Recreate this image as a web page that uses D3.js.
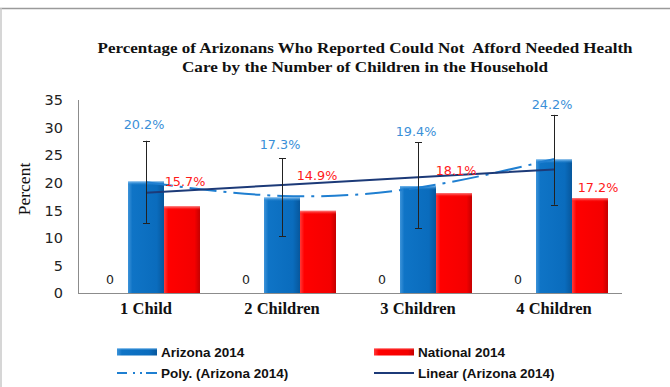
<!DOCTYPE html>
<html>
<head>
<meta charset="utf-8">
<script src="https://cdn.jsdelivr.net/npm/d3@7"></script>
<style>
  html, body { margin: 0; padding: 0; background: #fff; }
  svg { display: block; }
</style>
</head>
<body>
<svg id="chart" width="670" height="387"></svg>
<script>
// ---- data ----
const categories = ["1 Child", "2 Children", "3 Children", "4 Children"];
const seriesNames = ["Zero", "Arizona 2014", "National 2014"];
const zeroValues = [0, 0, 0, 0];
const arizonaValues = [20.2, 17.3, 19.4, 24.2];
const nationalValues = [15.7, 14.9, 18.1, 17.2];
const arizonaErrLow = [12.7, 10.3, 11.7, 16.0];
const arizonaErrHigh = [27.6, 24.4, 27.3, 32.3];
const linearTrend = [18.2, 19.6, 21.0, 22.4];
const polyTrend = [20.1, 17.6, 19.1, 24.3];
const yTicks = [0, 5, 10, 15, 20, 25, 30, 35];
const titleLines = ["Percentage of Arizonans Who Reported Could Not  Afford Needed Health",
                    "Care by the Number of Children in the Household"];
const legendLabels = ["Arizona 2014", "National 2014", "Poly. (Arizona 2014)", "Linear (Arizona 2014)"];

// ---- layout ----
const svg = d3.select("#chart");
const W = 670, H = 387;
const plot = { left: 78, right: 622, top: 100, bottom: 293 };

const x = d3.scaleBand().domain(categories).range([plot.left, plot.right])
  .paddingInner(0.206).paddingOuter(0.103);
const xs = d3.scaleBand().domain(seriesNames).range([0, x.bandwidth()]);
const y = d3.scaleLinear().domain([0, 35]).range([plot.bottom, plot.top]);

// frame
svg.append("line").attr("x1", 0).attr("x2", W).attr("y1", 8.5).attr("y2", 8.5)
  .attr("stroke", "#9a9a9a").attr("stroke-width", 1.5);
svg.append("line").attr("x1", 1).attr("x2", 1).attr("y1", 8).attr("y2", H)
  .attr("stroke", "#c8c8c8").attr("stroke-width", 1.5);

// gradients
const defs = svg.append("defs");
function grad(id, stops) {
  const g = defs.append("linearGradient").attr("id", id)
    .attr("x1", "0%").attr("x2", "100%").attr("y1", "0%").attr("y2", "0%");
  stops.forEach(s => g.append("stop").attr("offset", s[0]).attr("stop-color", s[1]));
}
grad("gBlue", [["0%", "#3d93d9"], ["12%", "#0f74c6"], ["80%", "#0a6cbd"], ["100%", "#07579c"]]);
grad("gRed", [["0%", "#ff3a3a"], ["12%", "#ff0000"], ["85%", "#f40000"], ["100%", "#c40000"]]);
const topBlue = defs.append("linearGradient").attr("id", "tBlue")
  .attr("x1", "0%").attr("x2", "0%").attr("y1", "0%").attr("y2", "100%");
topBlue.append("stop").attr("offset", "0%").attr("stop-color", "#7bbcf0");
topBlue.append("stop").attr("offset", "100%").attr("stop-color", "#0f74c6").attr("stop-opacity", 0);
const topRed = defs.append("linearGradient").attr("id", "tRed")
  .attr("x1", "0%").attr("x2", "0%").attr("y1", "0%").attr("y2", "100%");
topRed.append("stop").attr("offset", "0%").attr("stop-color", "#ff8080");
topRed.append("stop").attr("offset", "100%").attr("stop-color", "#ff0000").attr("stop-opacity", 0);

// title
const titleWidths = [535, 366];
svg.append("g").selectAll("text").data(titleLines).join("text")
  .attr("x", (d, i) => 365 - titleWidths[i] / 2).attr("y", (d, i) => 53 + i * 19)
  .attr("textLength", (d, i) => titleWidths[i]).attr("lengthAdjust", "spacingAndGlyphs")
  .attr("font-family", "'Liberation Serif', serif").attr("font-weight", "bold")
  .attr("font-size", 15.5).attr("fill", "#111")
  .style("white-space", "pre")
  .text(d => d);

// y axis
svg.append("line").attr("x1", plot.left + 0.5).attr("x2", plot.left + 0.5)
  .attr("y1", y(35)).attr("y2", y(0)).attr("stroke", "#8c8c8c");
svg.append("g").selectAll("text").data(yTicks).join("text")
  .attr("x", 63).attr("y", d => y(d)).attr("dy", "0.36em")
  .attr("text-anchor", "end")
  .attr("font-family", "'DejaVu Sans', sans-serif").attr("font-size", 14.5)
  .attr("fill", "#222").text(d => d);

svg.append("text")
  .attr("transform", `translate(30,${189}) rotate(-90)`)
  .attr("text-anchor", "middle")
  .attr("font-family", "'Liberation Serif', serif").attr("font-size", 17.5)
  .attr("fill", "#111").text("Percent");

// x axis
svg.append("line").attr("x1", plot.left).attr("x2", plot.right)
  .attr("y1", y(0) + 0.5).attr("y2", y(0) + 0.5).attr("stroke", "#8c8c8c");
svg.append("g").selectAll("text").data(categories).join("text")
  .attr("x", d => x(d) + x.bandwidth() / 2).attr("y", 314)
  .attr("text-anchor", "middle")
  .attr("font-family", "'Liberation Serif', serif").attr("font-weight", "bold")
  .attr("font-size", 16.5).attr("fill", "#111").text(d => d);

// bars
function drawBars(values, series, fill, topFill) {
  const g = svg.append("g");
  values.forEach((v, i) => {
    const bx = x(categories[i]) + xs(series);
    const bw = xs.bandwidth();
    g.append("rect").attr("x", bx).attr("y", y(v)).attr("width", bw)
      .attr("height", y(0) - y(v)).attr("fill", fill);
    g.append("rect").attr("x", bx).attr("y", y(v)).attr("width", bw)
      .attr("height", 4).attr("fill", topFill);
  });
}
drawBars(arizonaValues, "Arizona 2014", "url(#gBlue)", "url(#tBlue)");
drawBars(nationalValues, "National 2014", "url(#gRed)", "url(#tRed)");

// zero labels
svg.append("g").selectAll("text").data(zeroValues).join("text")
  .attr("x", (d, i) => x(categories[i]) + xs("Zero") + xs.bandwidth() / 2)
  .attr("y", (d) => y(d) - 9)
  .attr("text-anchor", "middle")
  .attr("font-family", "'DejaVu Sans', sans-serif").attr("font-size", 12.5)
  .attr("fill", "#222").text(d => d);

// trend lines
const cx = (i) => x(categories[i]) + xs("Arizona 2014") + xs.bandwidth() / 2;
svg.append("path")
  .datum(polyTrend)
  .attr("d", d3.line().x((d, i) => cx(i)).y(d => y(d)).curve(d3.curveNatural))
  .attr("fill", "none").attr("stroke", "#1f7fd1").attr("stroke-width", 2)
  .attr("stroke-dasharray", "27,7,3,7");
svg.append("path")
  .datum(linearTrend)
  .attr("d", d3.line().x((d, i) => cx(i)).y(d => y(d)))
  .attr("fill", "none").attr("stroke", "#1c3a78").attr("stroke-width", 2);

// error bars
const eg = svg.append("g").attr("stroke", "#222").attr("stroke-width", 1);
arizonaValues.forEach((v, i) => {
  const ex = Math.round(cx(i)) + 0.5;
  eg.append("line").attr("x1", ex).attr("x2", ex)
    .attr("y1", y(arizonaErrHigh[i])).attr("y2", y(arizonaErrLow[i]));
  [arizonaErrHigh[i], arizonaErrLow[i]].forEach(e => {
    eg.append("line").attr("x1", ex - 3.5).attr("x2", ex + 3.5)
      .attr("y1", Math.round(y(e)) + 0.5).attr("y2", Math.round(y(e)) + 0.5);
  });
});

// value labels
const azLift = [16, 14, 11, 10];
svg.append("g").selectAll("text").data(arizonaValues).join("text")
  .attr("x", (d, i) => cx(i) - 2)
  .attr("y", (d, i) => y(arizonaErrHigh[i]) - azLift[i] + 4.5)
  .attr("text-anchor", "middle")
  .attr("font-family", "'DejaVu Sans', sans-serif").attr("font-size", 12.8)
  .attr("fill", "#3a8fd8").text(d => d.toFixed(1) + "%");

const natLift = [25, 35, 23, 11];
const natShift = [3, -1, 2, 8];
svg.append("g").selectAll("text").data(nationalValues).join("text")
  .attr("x", (d, i) => x(categories[i]) + xs("National 2014") + xs.bandwidth() / 2 + natShift[i])
  .attr("y", (d, i) => y(d) - natLift[i] + 4.5)
  .attr("text-anchor", "middle")
  .attr("font-family", "'DejaVu Sans', sans-serif").attr("font-size", 12.8)
  .attr("fill", "#ff1a1a").text(d => d.toFixed(1) + "%");

// legend
const lg = svg.append("g");
const legendPos = [[117, 352], [374, 352], [117, 373], [374, 373]];
legendLabels.forEach((lab, i) => {
  const [lx, ly] = legendPos[i];
  if (i === 0 || i === 1) {
    lg.append("rect").attr("x", lx).attr("y", ly - 3.5).attr("width", 40).attr("height", 7)
      .attr("fill", i === 0 ? "url(#gBlue)" : "url(#gRed)");
    lg.append("rect").attr("x", lx).attr("y", ly - 3.5).attr("width", 40).attr("height", 2)
      .attr("fill", i === 0 ? "url(#tBlue)" : "url(#tRed)");
  } else if (i === 2) {
    lg.append("line").attr("x1", lx).attr("x2", lx + 40).attr("y1", ly).attr("y2", ly)
      .attr("stroke", "#1f7fd1").attr("stroke-width", 2).attr("stroke-dasharray", "10,6,2,5,2,4,12");
  } else {
    lg.append("line").attr("x1", lx).attr("x2", lx + 40).attr("y1", ly).attr("y2", ly)
      .attr("stroke", "#1c3a78").attr("stroke-width", 2);
  }
  lg.append("text").attr("x", lx + 44).attr("y", ly).attr("dy", "0.36em")
    .attr("font-family", "'Liberation Sans', sans-serif").attr("font-weight", "bold")
    .attr("font-size", 13.5).attr("fill", "#111").text(lab);
});
</script>
</body>
</html>
